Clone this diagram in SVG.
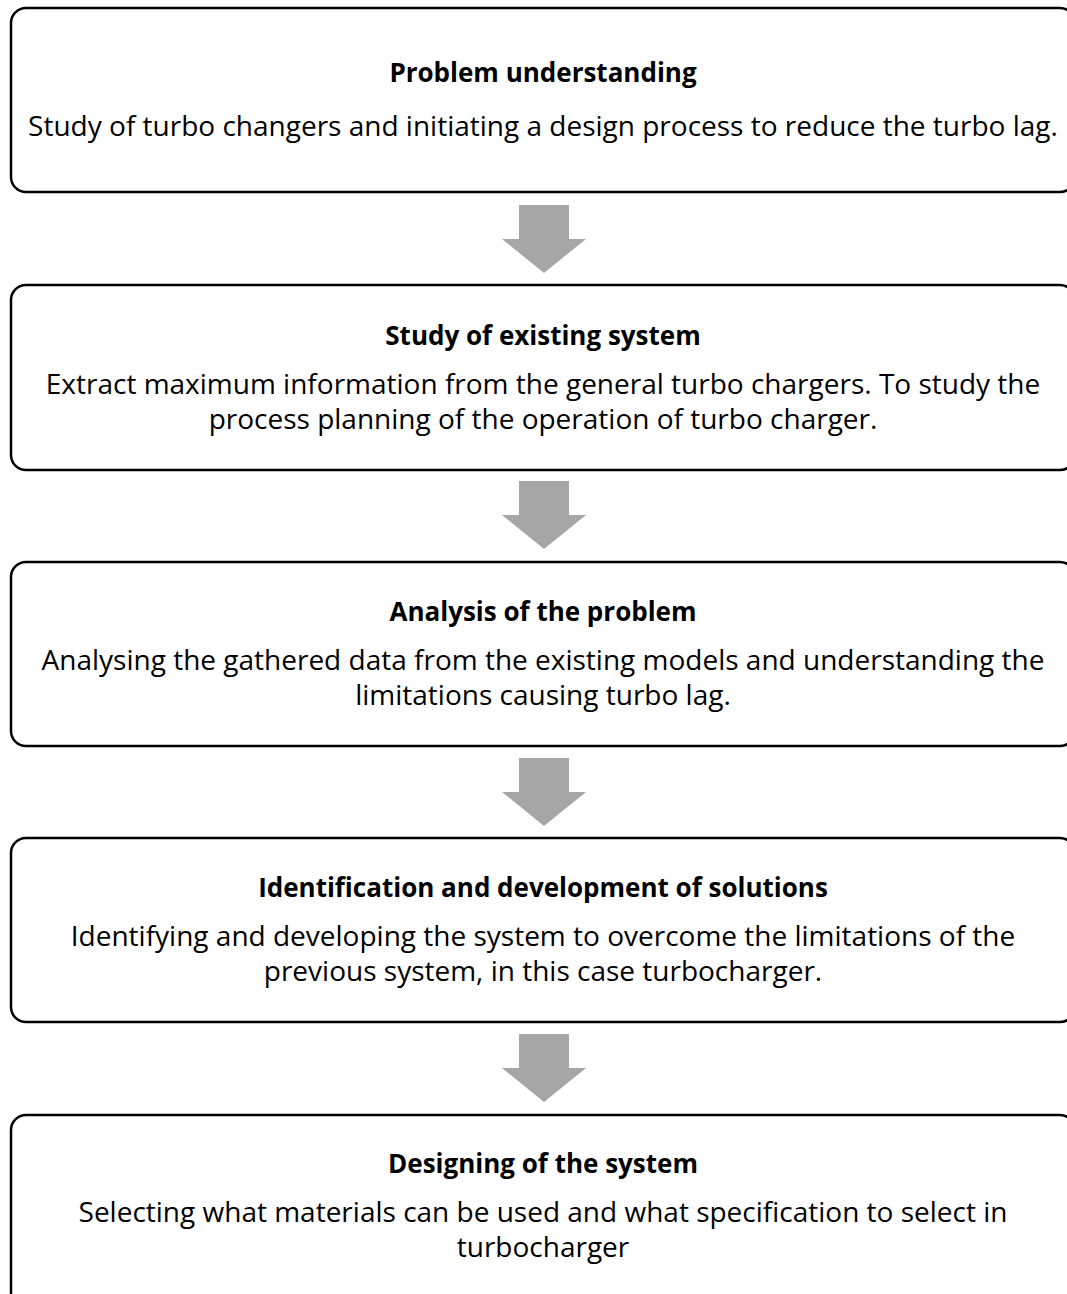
<svg xmlns="http://www.w3.org/2000/svg" width="1067" height="1294" viewBox="0 0 1067 1294">
  <style>
    .box { fill: #ffffff; stroke: #000000; stroke-width: 2.5; }
    .title { font-family: "Open Sans", "Noto Sans", sans-serif; font-weight: bold; font-size: 26px; fill: #000000; text-anchor: middle; }
    .body { font-family: "Open Sans", "Noto Sans", sans-serif; font-size: 28px; fill: #000000; text-anchor: middle; }
    .arrow { fill: #a6a6a6; }
  </style>
  <defs>
    <!-- block arrow pointing down, origin at its top centre -->
    <path id="down" d="M -25 0 H 25 V 34 H 42 L 0 68 L -42 34 H -25 Z"/>
  </defs>
  <rect width="1067" height="1294" fill="#ffffff"/>

  <g id="connectors">
    <use href="#down" class="arrow" x="544" y="205"/>
    <use href="#down" class="arrow" x="544" y="481"/>
    <use href="#down" class="arrow" x="544" y="758"/>
    <use href="#down" class="arrow" x="544" y="1034"/>
  </g>

  <g id="problem-understanding">
    <rect class="box" x="11" y="8" width="1064" height="184" rx="15"/>
    <text class="title" x="543" y="82">Problem understanding</text>
    <text class="body" x="543" y="136">Study of turbo changers and initiating a design process to reduce the turbo lag.</text>
  </g>

  <g id="study-existing-system">
    <rect class="box" x="11" y="285" width="1064" height="185" rx="15"/>
    <text class="title" x="543" y="345">Study of existing system</text>
    <text class="body" x="543" y="394">Extract maximum information from the general turbo chargers. To study the</text>
    <text class="body" x="543" y="429">process planning of the operation of turbo charger.</text>
  </g>

  <g id="analysis-of-problem">
    <rect class="box" x="11" y="562" width="1064" height="184" rx="15"/>
    <text class="title" x="543" y="621">Analysis of the problem</text>
    <text class="body" x="543" y="670">Analysing the gathered data from the existing models and understanding the</text>
    <text class="body" x="543" y="705">limitations causing turbo lag.</text>
  </g>

  <g id="identification-development">
    <rect class="box" x="11" y="838" width="1064" height="184" rx="15"/>
    <text class="title" x="543" y="897">Identification and development of solutions</text>
    <text class="body" x="543" y="946">Identifying and developing the system to overcome the limitations of the</text>
    <text class="body" x="543" y="981">previous system, in this case turbocharger.</text>
  </g>

  <g id="designing-system">
    <rect class="box" x="11" y="1115" width="1064" height="200" rx="15"/>
    <text class="title" x="543" y="1173">Designing of the system</text>
    <text class="body" x="543" y="1222">Selecting what materials can be used and what specification to select in</text>
    <text class="body" x="543" y="1257">turbocharger</text>
  </g>
</svg>
